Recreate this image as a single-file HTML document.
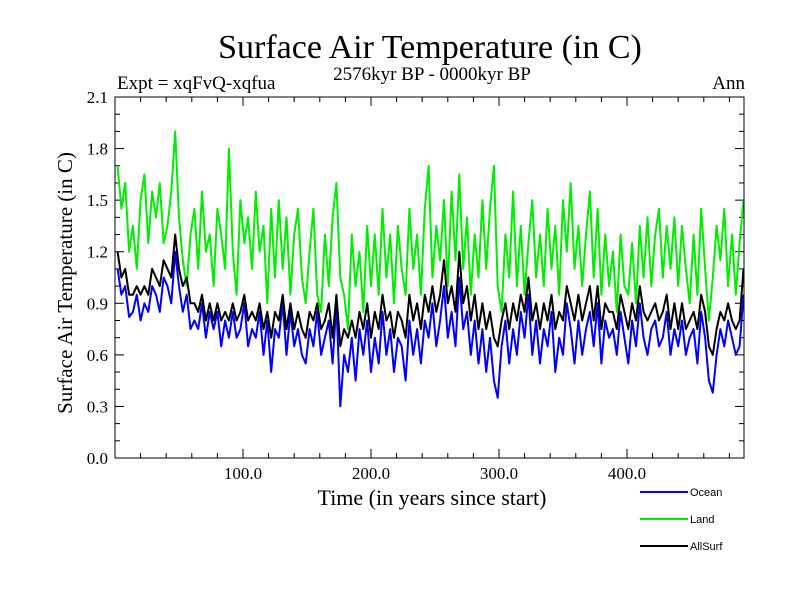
<!DOCTYPE html>
<html><head><meta charset="utf-8"><style>body{margin:0;background:#fff}svg{display:block}</style></head>
<body>
<svg id="chart" width="800" height="600" font-family="Liberation Serif, serif">
<rect width="800" height="600" fill="#fff"/>
<text x="430" y="58" font-size="34" text-anchor="middle">Surface Air Temperature (in C)</text>
<text x="432" y="80" font-size="19" text-anchor="middle">2576kyr BP - 0000kyr BP</text>
<text x="117" y="89" font-size="19">Expt = xqFvQ-xqfua</text>
<text x="745" y="89" font-size="19" text-anchor="end">Ann</text>
<text transform="translate(72,283) rotate(-90)" font-size="21" text-anchor="middle">Surface Air Temperature (in C)</text>
<text x="432" y="505" font-size="22" text-anchor="middle">Time (in years since start)</text>
<g id="axes"></g>
<g id="series"></g>
<rect x="115" y="97" width="629" height="361" fill="none" stroke="#000" stroke-width="1"/>
<g font-family="Liberation Sans, sans-serif" font-size="11">
<g><line x1="640" y1="492" x2="688" y2="492" stroke="#0000ff" stroke-width="2"/><text x="690" y="496">Ocean</text></g>
<g><line x1="640" y1="519" x2="688" y2="519" stroke="#00ee00" stroke-width="2"/><text x="690" y="523">Land</text></g>
<g><line x1="640" y1="546" x2="688" y2="546" stroke="#000" stroke-width="2"/><text x="690" y="550">AllSurf</text></g>
</g>
</svg>
<script>
const startYear = 2, stepYears = 3;
const land = [1.7,1.45,1.6,1.2,1.35,1.1,1.5,1.65,1.25,1.55,
1.4,1.6,1.25,1.35,1.55,1.9,1.4,1.15,1.0,1.3,
1.45,1.1,1.55,1.2,1.3,1.0,1.45,1.3,1.1,1.8,
1.2,0.95,1.5,1.25,1.4,1.1,1.55,1.2,1.35,0.9,
1.45,1.05,1.5,1.1,1.4,0.95,1.3,1.45,1.05,0.9,
1.2,1.45,0.95,0.85,1.3,1.0,1.4,1.6,1.05,0.95,
0.75,1.3,1.0,1.2,0.85,1.35,1.0,1.3,0.95,1.45,
1.05,1.3,0.9,1.35,1.1,0.95,1.45,1.1,1.3,0.95,
1.45,1.7,1.05,1.35,1.15,1.5,1.0,1.55,1.15,1.65,
1.1,1.4,0.95,1.3,1.05,1.5,1.1,1.45,1.7,1.0,
0.85,1.3,1.05,1.55,1.0,1.35,0.95,1.25,1.5,1.05,
1.3,1.0,1.45,1.1,1.35,0.95,1.5,1.2,1.6,1.1,
1.35,1.0,1.3,1.55,1.05,1.45,0.95,1.3,1.0,1.2,
0.85,1.3,1.0,0.95,1.25,0.9,1.35,1.05,1.4,1.0,
1.3,1.45,1.05,1.35,1.1,1.4,1.0,1.35,1.1,0.9,
1.3,0.95,1.45,1.1,0.8,1.05,1.35,1.15,1.45,1.0,
1.3,0.95,1.25,1.5];
const ocean = [1.1,0.95,1.0,0.82,0.85,0.95,0.8,0.9,0.85,1.0,
0.95,0.85,1.05,1.0,0.9,1.2,1.0,0.85,0.95,0.75,
0.8,0.75,0.9,0.7,0.85,0.75,0.85,0.65,0.8,0.7,
0.85,0.7,0.75,0.9,0.65,0.75,0.7,0.85,0.6,0.8,
0.5,0.75,0.7,0.9,0.6,0.85,0.65,0.75,0.6,0.55,
0.75,0.65,0.85,0.6,0.7,0.8,0.55,0.9,0.3,0.6,
0.5,0.7,0.45,0.75,0.6,0.8,0.5,0.7,0.55,0.85,
0.6,0.75,0.5,0.7,0.65,0.45,0.8,0.6,0.75,0.55,
0.8,0.7,0.9,0.65,0.8,1.0,0.7,0.85,0.65,1.05,
0.75,0.85,0.6,0.8,0.55,0.75,0.5,0.7,0.45,0.35,
0.65,0.8,0.55,0.75,0.6,0.85,0.7,0.95,0.6,0.8,
0.55,0.75,0.65,0.85,0.5,0.7,0.6,0.9,0.75,0.55,
0.8,0.6,0.75,0.85,0.65,0.9,0.55,0.8,0.7,0.75,
0.6,0.85,0.7,0.55,0.8,0.65,0.9,0.7,0.6,0.75,
0.8,0.65,0.7,0.85,0.6,0.75,0.65,0.8,0.6,0.7,
0.75,0.55,0.85,0.7,0.45,0.38,0.6,0.75,0.65,0.8,
0.7,0.6,0.65,0.95];
const allsurf = [1.2,1.05,1.1,0.95,0.95,1.0,0.95,1.0,0.95,1.1,
1.05,1.0,1.15,1.1,1.05,1.3,1.1,1.0,1.05,0.9,
0.9,0.85,0.95,0.8,0.9,0.8,0.9,0.8,0.85,0.8,
0.9,0.8,0.85,0.95,0.8,0.85,0.8,0.9,0.75,0.85,
0.7,0.85,0.8,0.95,0.75,0.9,0.75,0.85,0.75,0.7,
0.85,0.8,0.9,0.75,0.8,0.9,0.7,0.95,0.65,0.75,
0.7,0.8,0.7,0.85,0.75,0.9,0.7,0.85,0.75,0.95,
0.8,0.85,0.7,0.85,0.8,0.7,0.95,0.8,0.9,0.75,
0.95,0.85,1.0,0.85,0.95,1.15,0.9,1.0,0.85,1.2,
0.9,1.0,0.8,0.95,0.75,0.9,0.75,0.85,0.7,0.65,
0.8,0.9,0.75,0.9,0.8,0.95,0.85,1.05,0.8,0.9,
0.75,0.9,0.8,0.95,0.75,0.85,0.8,1.0,0.9,0.8,
0.95,0.8,0.9,1.0,0.8,1.0,0.75,0.9,0.85,0.85,
0.75,0.95,0.85,0.75,0.9,0.8,1.0,0.85,0.8,0.85,
0.9,0.8,0.85,0.95,0.75,0.9,0.75,0.9,0.75,0.8,
0.85,0.75,0.95,0.85,0.65,0.6,0.75,0.85,0.8,0.9,
0.8,0.75,0.8,1.1];
const yTickLabels = ["0.0","0.3","0.6","0.9","1.2","1.5","1.8","2.1"];
const xTickLabels = ["100.0","200.0","300.0","400.0"];

const NS="http://www.w3.org/2000/svg";
const X=t=>115+1.28*t, Y=v=>458-v*(361/2.1);
const axes=document.getElementById('axes'), ser=document.getElementById('series');
function mk(tag,attrs,parent){const e=document.createElementNS(NS,tag);for(const k in attrs)e.setAttribute(k,attrs[k]);parent.appendChild(e);return e;}
for(let i=0;i<=21;i++){const y=Y(i/10),len=i%3===0?9:5;
 mk('line',{x1:115,x2:115+len,y1:y,y2:y,stroke:'#000'},axes);
 mk('line',{x1:744,x2:744-len,y1:y,y2:y,stroke:'#000'},axes);}
yTickLabels.forEach(l=>{const t=mk('text',{x:108,y:Y(parseFloat(l))+6,'font-size':17,'text-anchor':'end'},axes);t.textContent=l;
 
 });
for(let t=20;t<=480;t+=20){const x=X(t),len=t%100===0?9:5;
 mk('line',{x1:x,x2:x,y1:458,y2:458-len,stroke:'#000'},axes);
 mk('line',{x1:x,x2:x,y1:97,y2:97+len,stroke:'#000'},axes);}
xTickLabels.forEach(l=>{const t=mk('text',{x:X(parseFloat(l)),y:479,'font-size':17,'text-anchor':'middle'},axes);t.textContent=l;
 
 });
function draw(vals,color,name){const pts=vals.map((v,i)=>X(startYear+i*stepYears).toFixed(1)+','+Y(v).toFixed(1)).join(' ');
 const p=mk('polyline',{points:pts,fill:'none',stroke:color,'stroke-width':2,'stroke-linejoin':'round'},ser);
 
 }
draw(land,'#00ee00','land-line');
draw(ocean,'#0000ff','ocean-line');
draw(allsurf,'#000000','allsurf-line');
</script>
</body></html>
